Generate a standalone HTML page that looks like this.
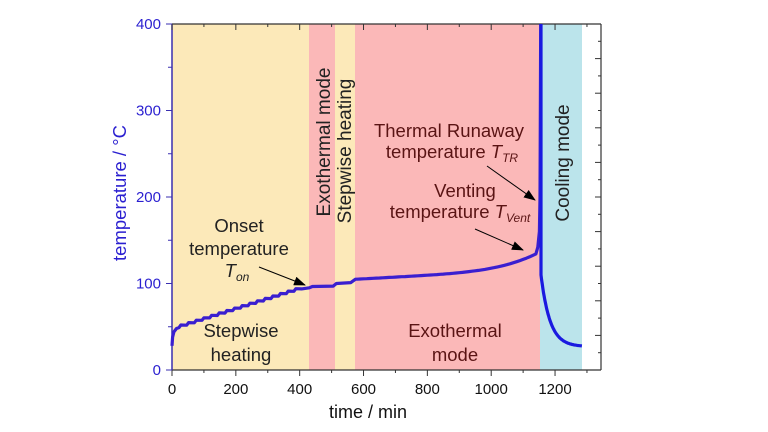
<!DOCTYPE html>
<html><head><meta charset="utf-8"><style>
body{margin:0;background:#fff;}
svg{display:block;font-family:"Liberation Sans",Arial,sans-serif;}
</style></head><body>
<svg id="s" width="768" height="432" viewBox="0 0 768 432" xmlns="http://www.w3.org/2000/svg">
<defs><marker id="ar" markerWidth="12" markerHeight="9" refX="11" refY="4.5" orient="auto" markerUnits="userSpaceOnUse"><path d="M0,0 L12,4.5 L0,9 z" fill="#000"/></marker></defs>
<rect x="172" y="24" width="137" height="346" fill="#fce9b9"/>
<rect x="309" y="24" width="26" height="346" fill="#fbb8b8"/>
<rect x="335" y="24" width="20" height="346" fill="#fce9b9"/>
<rect x="355" y="24" width="185" height="346" fill="#fbb8b8"/>
<rect x="540" y="24" width="42" height="346" fill="#bbe4eb"/>
<line x1="172" y1="24" x2="601" y2="24" stroke="#333" stroke-width="1.2"/>
<line x1="172" y1="370" x2="601" y2="370" stroke="#333" stroke-width="1.2"/>
<line x1="601" y1="24" x2="601" y2="370" stroke="#333" stroke-width="1.2"/>
<line x1="172" y1="24" x2="172" y2="370" stroke="#3a2fb0" stroke-width="1.5"/>
<g id="ticks"></g>
<path id="curve" fill="none" stroke="#3a1fd0" stroke-width="3.2" stroke-linejoin="round"/>
<path id="cool" fill="none" stroke="#1a1ae0" stroke-width="3.2"/>
<g font-size="18.5" fill="#222" text-anchor="middle">
<text x="241" y="337">Stepwise</text>
<text x="241" y="361">heating</text>
<text x="239" y="232">Onset</text>
<text x="239" y="255">temperature</text>
<text x="237" y="277" font-style="italic">T<tspan font-size="12" dy="4">on</tspan></text>
<text transform="translate(330,142) rotate(-90)" font-size="19">Exothermal mode</text>
<text transform="translate(351,151) rotate(-90)" font-size="19">Stepwise heating</text>
<text transform="translate(569,163) rotate(-90)" font-size="19">Cooling mode</text>
<g fill="#5a1414">
<text x="455" y="337">Exothermal</text>
<text x="455" y="361">mode</text>
<text x="449" y="137">Thermal Runaway</text>
<text x="452" y="158">temperature <tspan font-style="italic">T</tspan><tspan font-style="italic" font-size="12" dy="4">TR</tspan></text>
<text x="465" y="197">Venting</text>
<text x="460" y="218">temperature <tspan font-style="italic">T</tspan><tspan font-style="italic" font-size="12" dy="4">Vent</tspan></text>
</g>
</g>
<line x1="259" y1="267" x2="305" y2="285" stroke="#000" marker-end="url(#ar)"/>
<line x1="487" y1="166" x2="535" y2="200" stroke="#000" marker-end="url(#ar)"/>
<line x1="475" y1="229" x2="523" y2="250" stroke="#000" marker-end="url(#ar)"/>
<text transform="translate(126,193) rotate(-90)" font-size="18.5" fill="#2a1fd0" text-anchor="middle">temperature / °C</text>
<text x="368" y="418" font-size="18" fill="#111" text-anchor="middle">time / min</text>
</svg>
<script>
var X=t=>172+t*0.3192, Y=v=>370-v*0.865;
var ns="http://www.w3.org/2000/svg",g=document.getElementById('ticks');
function el(n,a,txt){var e=document.createElementNS(ns,n);for(var k in a)e.setAttribute(k,a[k]);if(txt!=null)e.textContent=txt;g.appendChild(e);}
for(var t=0;t<=1300;t+=100){var x=X(t),maj=t%200==0;
 el('line',{x1:x,y1:370,x2:x,y2:maj?376:373,stroke:'#333'});
 el('line',{x1:x,y1:24,x2:x,y2:maj?30:27,stroke:'#333'});
 if(maj)el('text',{x:x,y:394,'font-size':15,'text-anchor':'middle',fill:'#111'},t);}
for(var v=0;v<=400;v+=50){var y=Y(v),maj=v%100==0;
 el('line',{x1:172,y1:y,x2:maj?166:168,y2:y,stroke:'#3a2fb0'});
 if(maj)el('text',{x:161,y:y+5,'font-size':15,'text-anchor':'end',fill:'#2a1fd0'},v);}
for(var v=0;v<=400;v+=20){var y=Y(v);el('line',{x1:601,y1:y,x2:v%40==0?595:598,y2:y,stroke:'#333'});}
var p=[[0,28],[2,38],[6,44],[14,48],[22,49]],v=49,t=22;
while(t<405){p.push([t+6,v+3]);v+=2.8;p.push([t+24,v]);t+=24;}
p.push([430,95]);p.push([440,96.5]);p.push([505,97]);p.push([515,100]);p.push([560,101]);p.push([575,105]);
for(t=580;t<=1140;t+=10){var val=105+(t-580)*0.02+Math.pow((t-580)/560,5)*18;p.push([t,val]);}
p.push([1146,142]);p.push([1151,160]);p.push([1153,200]);p.push([1155,400]);
document.getElementById('curve').setAttribute('d','M'+p.map(q=>X(q[0]).toFixed(1)+','+Y(q[1]).toFixed(1)).join(' L'));
var c=[[1156,400],[1156,110]];for(t=1158;t<=1285;t+=2){var val=27+83*Math.exp(-(t-1156)/28);c.push([t,val]);}
document.getElementById('cool').setAttribute('d','M'+c.map(q=>X(q[0]).toFixed(1)+','+Y(q[1]).toFixed(1)).join(' L'));
</script>
</body></html>
